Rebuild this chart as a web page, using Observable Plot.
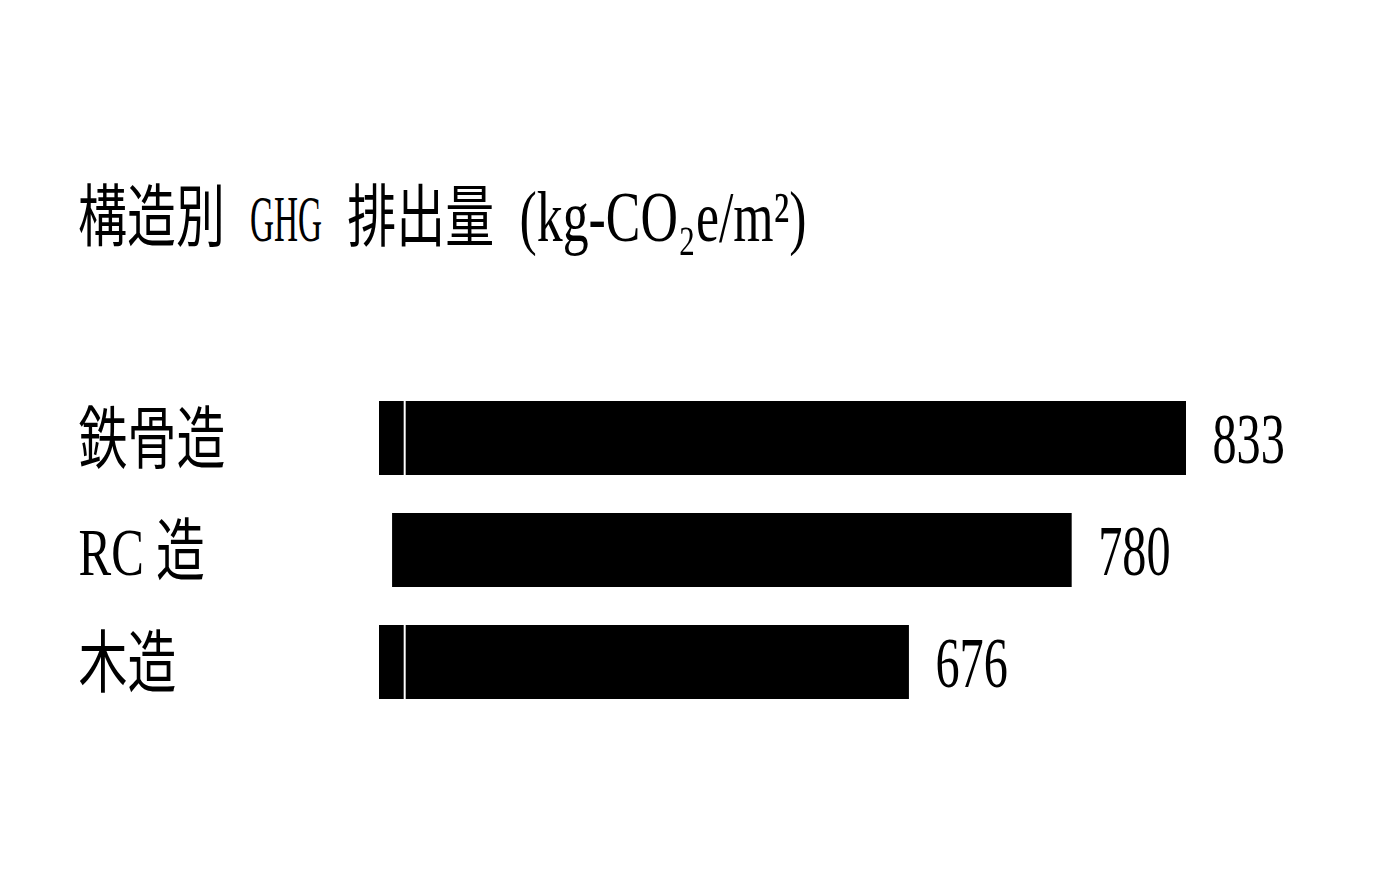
<!DOCTYPE html>
<html>
<head>
<meta charset="utf-8">
<script src="https://cdn.jsdelivr.net/npm/d3@7"></script>
<script src="https://cdn.jsdelivr.net/npm/@observablehq/plot@0.6"></script>
<style>
  html, body { margin: 0; padding: 0; background: #fff; }
  #title { position: relative; height: 300px; width: 1375px; }
  #title > span {
    position: absolute; left: 78px; top: 183px;
    font-family: "Liberation Serif", "Noto Sans CJK JP", serif;
    font-size: 68px; line-height: 68px; color: #000;
    white-space: pre; word-spacing: 18px;
    transform: scaleX(0.72); transform-origin: 0 0;
  }
  #title .lat {
    display: inline-block; font-size: 66px; line-height: 68px;
    transform: scaleX(0.7); transform-origin: 0 0; margin-right: -42.9px;
  }
  #title .unit { font-size: 72px; }
  #chart svg { display: block; }
</style>
</head>
<body>
<div id="title"><span>構造別 <span class="lat">GHG</span> 排出量 <span class="unit">(kg-CO₂e/m²)</span></span></div>
<div id="chart"></div>
<script>
// Data
const categories = ["鉄骨造", "RC 造", "木造"];
const valueLabels = [833, 780, 676];
// bar extents as drawn (in value units of the x scale)
const barStart = [0, 13.5, 0];
const barEnd = [833, 715, 547];
// thin white divider near the start of two bars
const splitAt = [26, null, 26];

const rows = categories.map((c, i) => ({
  cat: c, label: valueLabels[i], x1: barStart[i], x2: barEnd[i], split: splitAt[i]
}));

const chart = Plot.plot({
  width: 1375,
  height: 583,
  marginLeft: 379,
  marginRight: 189,
  marginTop: 62,
  marginBottom: 146,
  x: {domain: [0, 833], axis: null},
  y: {domain: categories, padding: 0.34, axis: null},
  marks: [
    Plot.barX(rows, {y: "cat", x1: "x1", x2: "x2", fill: "#000"}),
    Plot.tickX(rows.filter(d => d.split != null), {x: "split", y: "cat", stroke: "#fff", strokeWidth: 2}),
    Plot.text(rows, {
      x: "x2", y: "cat", text: d => String(d.label),
      textAnchor: "start", dx: 26, dy: 1,
      fontSize: 72, fontFamily: "Liberation Serif", fill: "#000"
    }),
    Plot.text(rows, {
      y: "cat", frameAnchor: "left", text: "cat",
      textAnchor: "start", dx: -301, dy: 3,
      fontSize: 68, fontFamily: "'Liberation Serif', 'Noto Sans CJK JP'", fill: "#000"
    })
  ]
});

document.getElementById("chart").appendChild(chart);

// condense the text horizontally like the reference's narrow typeface
const scales = [0.67, 0.72];
d3.select(chart).selectAll('g[aria-label="text"]').each(function(_, i) {
  const s = scales[i] ?? 0.72;
  d3.select(this).selectAll("text").each(function() {
    const t = this.getAttribute("transform") || "";
    this.setAttribute("transform", (t + ` scale(${s},1)`).trim());
  });
});
</script>
</body>
</html>
